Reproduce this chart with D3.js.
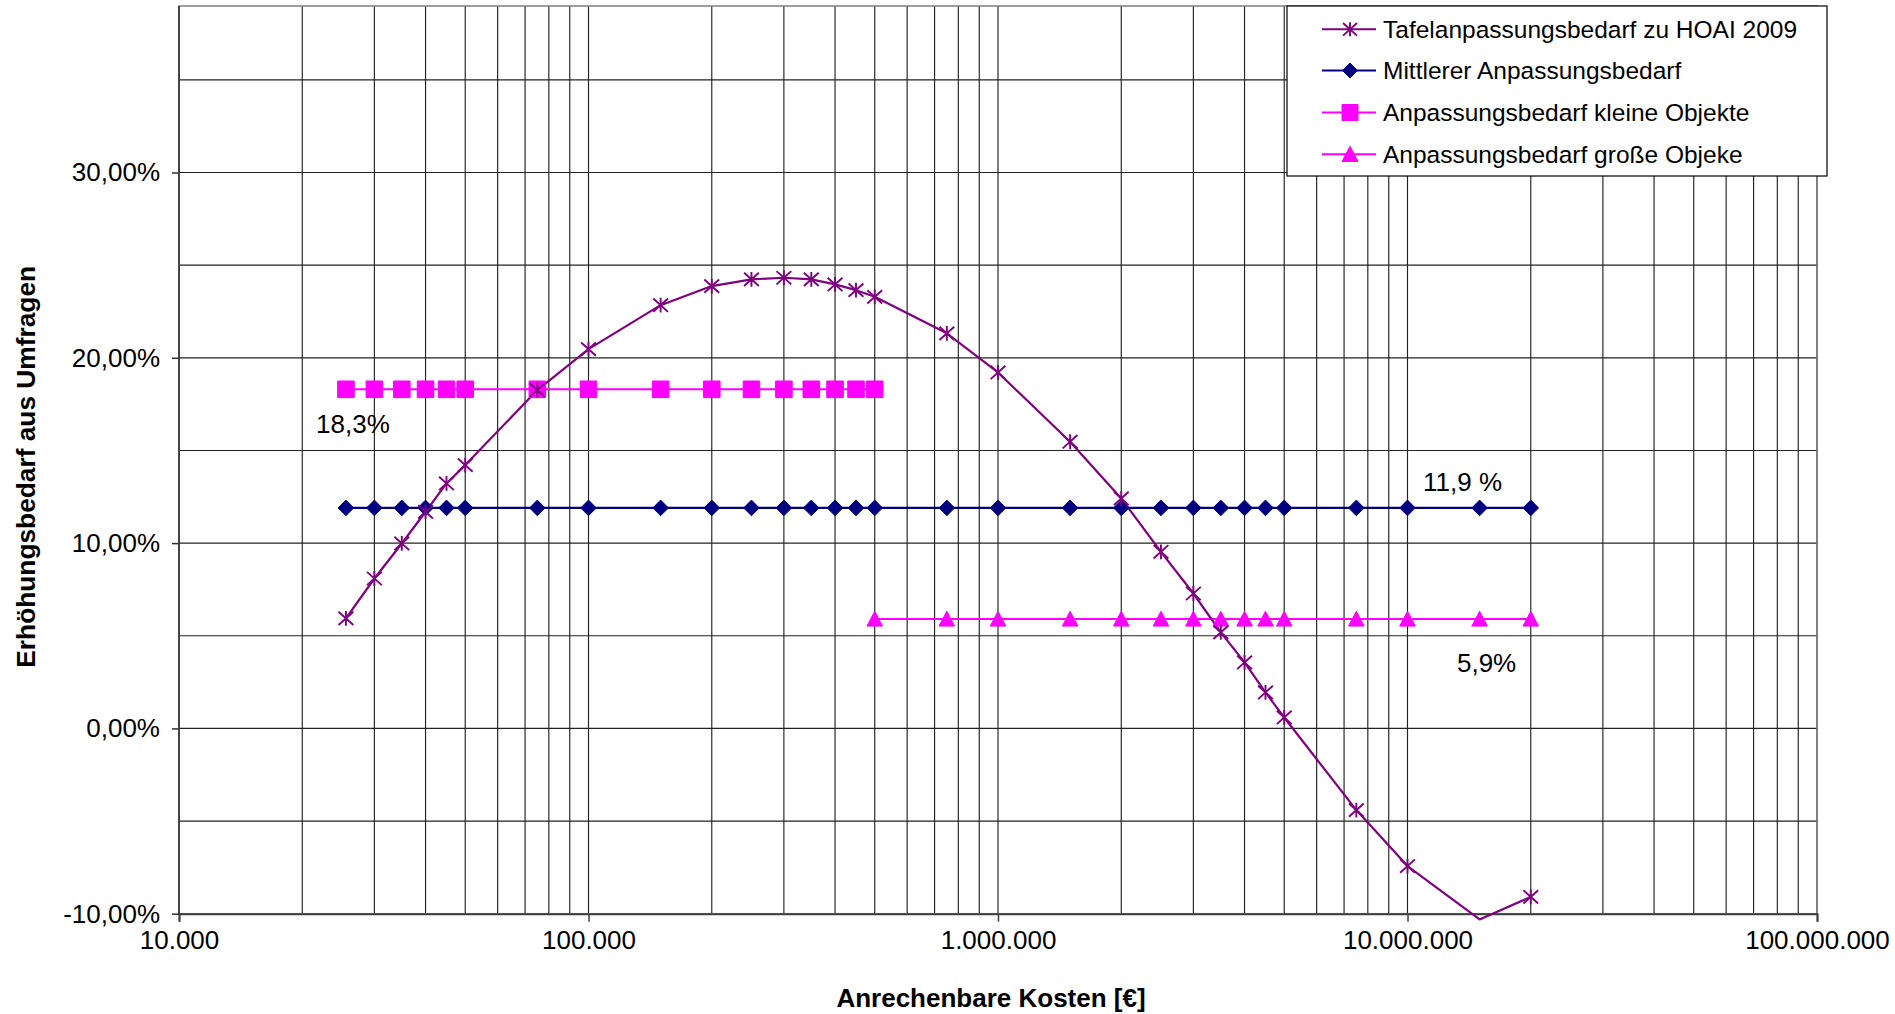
<!DOCTYPE html>
<html>
<head>
<meta charset="utf-8">
<script src="https://cdn.jsdelivr.net/npm/d3@7"></script>
<style>
  html, body { margin: 0; padding: 0; background: #fff; }
  svg { display: block; }
  text { font-family: "Liberation Sans", Arial, sans-serif; fill: #000; }
</style>
</head>
<body>
<script>
// ---------------- DATA ----------------
const costs = [25565, 30000, 35000, 40000, 45000, 50000, 75000, 100000, 150000, 200000,
  250000, 300000, 350000, 400000, 450000, 500000, 750000, 1000000, 1500000, 2000000,
  2500000, 3000000, 3500000, 4000000, 4500000, 5000000, 7500000, 10000000, 15000000, 20000000];

const tafelValues = [0.0594, 0.0809, 0.0998, 0.1169, 0.1322, 0.1421, 0.1826, 0.2047, 0.2284, 0.2387,
  0.2423, 0.2432, 0.2423, 0.2396, 0.2365, 0.2329, 0.2132, 0.1921, 0.1547, 0.1241,
  0.0953, 0.0728, 0.0518, 0.0356, 0.0194, 0.0059, -0.0441, -0.0743, -0.1031, -0.0909];

const mittlererCosts = costs;
const mittlererValues = costs.map(() => 0.119);

const kleineCosts = [25565, 30000, 35000, 40000, 45000, 50000, 75000, 100000, 150000, 200000,
  250000, 300000, 350000, 400000, 450000, 500000];
const kleineValues = kleineCosts.map(() => 0.183);

const grosseCosts = [500000, 750000, 1000000, 1500000, 2000000, 2500000, 3000000, 3500000,
  4000000, 4500000, 5000000, 7500000, 10000000, 15000000, 20000000];
const grosseValues = grosseCosts.map(() => 0.059);

const seriesNames = ["Tafelanpassungsbedarf zu HOAI 2009", "Mittlerer Anpassungsbedarf",
  "Anpassungsbedarf kleine Objekte", "Anpassungsbedarf große Objeke"];

const xTickValues = [1e4, 1e5, 1e6, 1e7, 1e8];
const xTickLabels = ["10.000", "100.000", "1.000.000", "10.000.000", "100.000.000"];
const yTickValues = [-0.10, 0.00, 0.10, 0.20, 0.30];
const yTickLabels = ["-10,00%", "0,00%", "10,00%", "20,00%", "30,00%"];
const yGridValues = [-0.10, -0.05, 0.00, 0.05, 0.10, 0.15, 0.20, 0.25, 0.30, 0.35];

const xTitle = "Anrechenbare Kosten [€]";
const yTitle = "Erhöhungsbedarf aus Umfragen";
const labelKleine = "18,3%";
const labelMittel = "11,9 %";
const labelGross = "5,9%";

// ---------------- LAYOUT ----------------
const W = 1895, H = 1014;
const plotLeft = 179, plotRight = 1817, plotTop = 6, plotBottom = 913.7;

const svg = d3.select("body").append("svg").attr("width", W).attr("height", H);

const x = d3.scaleLog().domain([1e4, 1e8]).range([plotLeft, plotRight]);
const y = d3.scaleLinear().domain([-0.10, 0.30]).range([plotBottom, 172.5]);

// plot background
svg.append("rect").attr("x", plotLeft).attr("y", plotTop)
  .attr("width", plotRight - plotLeft).attr("height", plotBottom - plotTop)
  .attr("fill", "#fff");

// vertical grid lines (log minor ticks)
const xGrid = x.ticks();
svg.append("g").selectAll("line").data(xGrid).join("line")
  .attr("x1", d => x(d)).attr("x2", d => x(d))
  .attr("y1", plotTop).attr("y2", plotBottom)
  .attr("stroke", "#222").attr("stroke-width", 1.15);

// horizontal grid lines
svg.append("g").selectAll("line").data(yGridValues).join("line")
  .attr("x1", plotLeft).attr("x2", plotRight)
  .attr("y1", d => y(d)).attr("y2", d => y(d))
  .attr("stroke", "#222").attr("stroke-width", 1.15);

// plot frame (top/right gray)
svg.append("rect").attr("x", plotLeft).attr("y", plotTop)
  .attr("width", plotRight - plotLeft).attr("height", plotBottom - plotTop)
  .attr("fill", "none").attr("stroke", "#808080").attr("stroke-width", 1.5);

// Axes
const xAxis = d3.axisBottom(x).tickValues(xTickValues)
  .tickFormat((d, i) => xTickLabels[i]).tickSize(8).tickPadding(9);
const gx = svg.append("g").attr("transform", `translate(0,${plotBottom})`).call(xAxis);
gx.select(".domain").attr("stroke", "#404040").attr("stroke-width", 2);
gx.selectAll(".tick line").attr("stroke", "#404040").attr("stroke-width", 1.5);
gx.selectAll(".tick text").attr("font-size", "26px").attr("fill", "#000")
  .attr("font-family", "'Liberation Sans', Arial, sans-serif");

const yAxis = d3.axisLeft(y).tickValues(yTickValues)
  .tickFormat((d, i) => yTickLabels[i]).tickSize(7).tickPadding(12);
const gy = svg.append("g").attr("transform", `translate(${plotLeft},0)`).call(yAxis);
gy.select(".domain").attr("stroke", "#303030").attr("stroke-width", 1.5)
  .attr("d", `M0,${plotTop}V${plotBottom}`);
gy.selectAll(".tick line").attr("stroke", "#303030").attr("stroke-width", 1.5);
gy.selectAll(".tick text").attr("font-size", "26px").attr("fill", "#000")
  .attr("font-family", "'Liberation Sans', Arial, sans-serif");

// ---------------- SERIES ----------------
const colTafel = "#800080", colMittel = "#000080", colMag = "#FF00FF";

function drawLine(xs, vs, color, width) {
  const pts = xs.map((c, i) => [x(c), y(vs[i])]);
  svg.append("path").attr("d", d3.line()(pts))
    .attr("fill", "none").attr("stroke", color).attr("stroke-width", width)
    .attr("stroke-linejoin", "round");
}

function markerPath(type, s) {
  // s = half size
  if (type === "diamond") return `M0,${-s}L${s},0L0,${s}L${-s},0Z`;
  if (type === "square") return `M${-s},${-s}H${s}V${s}H${-s}Z`;
  if (type === "triangle") return `M0,${-s}L${s},${s * 0.9}L${-s},${s * 0.9}Z`;
  if (type === "star") return `M${-s},${-s * 0.9}L${s},${s * 0.9}M${s},${-s * 0.9}L${-s},${s * 0.9}M0,${-s}V${s}`;
}

function drawMarkers(xs, vs, type, color, s) {
  const data = xs.map((c, i) => ({ c, v: vs[i] })).filter(d => d.v >= y.domain()[0]);
  const g = svg.append("g");
  g.selectAll("path").data(data).join("path")
    .attr("transform", d => `translate(${x(d.c)},${y(d.v)})`)
    .attr("d", markerPath(type, s))
    .attr("fill", type === "star" ? "none" : color)
    .attr("stroke", color)
    .attr("stroke-width", type === "star" ? 1.9 : 1);
}

drawLine(grosseCosts, grosseValues, colMag, 2);
drawLine(kleineCosts, kleineValues, colMag, 2);
drawLine(mittlererCosts, mittlererValues, colMittel, 2.2);
drawLine(costs, tafelValues, colTafel, 2.2);

drawMarkers(kleineCosts, kleineValues, "square", colMag, 8.3);
drawMarkers(grosseCosts, grosseValues, "triangle", colMag, 7.8);
drawMarkers(mittlererCosts, mittlererValues, "diamond", colMittel, 7.8);
drawMarkers(costs, tafelValues, "star", colTafel, 7.4);

// ---------------- DATA LABELS ----------------
svg.append("text").attr("x", x(kleineCosts[0]) + 7).attr("y", y(kleineValues[0]) + 34)
  .attr("dy", "0.36em").attr("text-anchor", "middle").attr("font-size", "26px").text(labelKleine);
svg.append("text").attr("x", x(mittlererCosts[28]) - 17).attr("y", y(mittlererValues[28]) - 26)
  .attr("dy", "0.36em").attr("text-anchor", "middle").attr("font-size", "26px").text(labelMittel);
svg.append("text").attr("x", x(grosseCosts[13]) + 7).attr("y", y(grosseValues[13]) + 44)
  .attr("dy", "0.36em").attr("text-anchor", "middle").attr("font-size", "26px").text(labelGross);

// ---------------- AXIS TITLES ----------------
svg.append("text").attr("x", 991).attr("y", 1007).attr("text-anchor", "middle")
  .attr("font-size", "26px").attr("font-weight", "bold").text(xTitle);
svg.append("text").attr("transform", "translate(35,466.8) rotate(-90)")
  .attr("text-anchor", "middle").attr("font-size", "26.3px").attr("font-weight", "bold").text(yTitle);

// ---------------- LEGEND ----------------
const legX = 1287, legY = 6, legW = 540, legH = 170;
const leg = svg.append("g");
leg.append("rect").attr("x", legX).attr("y", legY).attr("width", legW).attr("height", legH)
  .attr("fill", "#fff").attr("stroke", "#000").attr("stroke-width", 1.2);
const legendItems = [
  { name: seriesNames[0], color: colTafel, type: "star", s: 7 },
  { name: seriesNames[1], color: colMittel, type: "diamond", s: 7.5 },
  { name: seriesNames[2], color: colMag, type: "square", s: 8 },
  { name: seriesNames[3], color: colMag, type: "triangle", s: 8 }
];
const rowY = [29.3, 70.5, 112.5, 154.3];
legendItems.forEach((it, i) => {
  const cy = rowY[i];
  leg.append("line").attr("x1", 1322).attr("x2", 1376).attr("y1", cy).attr("y2", cy)
    .attr("stroke", it.color).attr("stroke-width", 2);
  leg.append("path").attr("transform", `translate(1350,${cy})`)
    .attr("d", markerPath(it.type, it.s))
    .attr("fill", it.type === "star" ? "none" : it.color)
    .attr("stroke", it.color).attr("stroke-width", it.type === "star" ? 1.9 : 1);
  leg.append("text").attr("x", 1383).attr("y", cy).attr("dy", "0.36em")
    .attr("font-size", "24.5px").text(it.name);
});
</script>
</body>
</html>
